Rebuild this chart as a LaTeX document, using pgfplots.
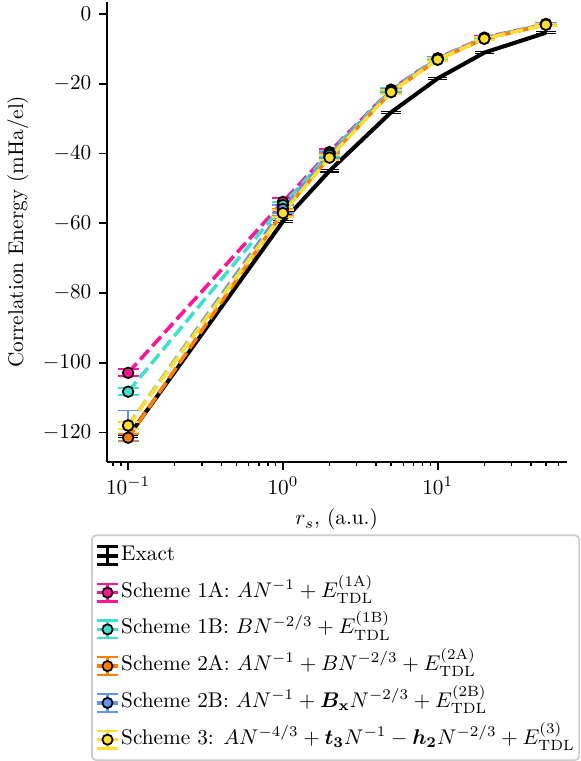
\documentclass[border=0pt]{standalone}
\usepackage{pgfplots}
\usepackage{bm}
\pgfplotsset{compat=1.18}
\definecolor{c1a}{HTML}{FF1493}
\definecolor{c1b}{HTML}{40E0D0}
\definecolor{c2a}{HTML}{FF7F00}
\definecolor{c2b}{HTML}{6495ED}
\definecolor{c3}{HTML}{FFDF2B}
\newcommand{\schemeimg}[1]{%
  \draw[#1, solid, line width=1.7pt] (0pt,0pt) -- (10pt,0pt);
  \draw[#1, solid, line width=1.1pt] (5pt,-4.2pt) -- (5pt,4.2pt);
  \draw[#1, solid, line width=1.1pt] (0pt,-4.2pt) -- (10pt,-4.2pt) (0pt,4.2pt) -- (10pt,4.2pt);
  \draw[solid, fill=#1, draw=black, line width=0.8pt] (5pt,0pt) circle (2.4pt);
}
\pgfplotsset{
  scheme/.style={#1, line width=1.7pt, dash pattern=on 6pt off 2.5pt, mark=*, mark size=2.5pt,
    mark options={solid, fill=#1, draw=black, line width=0.8pt},
    forget plot,
    error bars/.cd, y dir=both, y explicit,
    error bar style={solid, line width=0.9pt, #1},
    error mark options={solid, rotate=90, line width=0.9pt, mark size=5pt, #1}},
}
\pgfplotstableread{
x y e
0.1 -121.2 0.3
1 -59.5 0.3
2 -45.0 0.3
5 -28.2 0.3
10 -18.5 0.3
20 -11.1 0.3
50 -5.4 0.3
}\exact
\pgfplotstableread{
x y e
0.1 -102.9 1.0
1 -53.9 1.0
2 -39.6 0.8
5 -21.7 0.6
10 -12.7 0.5
20 -6.8 0.4
50 -2.9 0.3
}\sa
\pgfplotstableread{
x y e
0.1 -108.3 1.0
1 -54.8 1.0
2 -40.0 0.8
5 -21.9 0.6
10 -12.8 0.5
20 -6.9 0.4
50 -2.9 0.3
}\sb
\pgfplotstableread{
x y e
0.1 -121.5 1.0
1 -56.9 1.0
2 -41.0 0.8
5 -22.4 0.6
10 -13.1 0.5
20 -7.1 0.4
50 -3.1 0.3
}\sc
\pgfplotstableread{
x y e
0.1 -118.0 4.3
1 -55.9 1.2
2 -40.4 0.8
5 -22.1 0.6
10 -12.9 0.5
20 -7.0 0.4
50 -3.0 0.3
}\sd
\pgfplotstableread{
x y e
0.1 -118.0 1.0
1 -57.1 1.0
2 -41.2 0.8
5 -22.4 0.6
10 -13.1 0.5
20 -7.1 0.4
50 -3.1 0.3
}\se
\begin{document}
\begin{tikzpicture}
\begin{axis}[
  scale only axis,
  width=216.5pt, height=216.5pt,
  xmode=log,
  xmin=0.0727, xmax=68.2,
  ymin=-128.4, ymax=3.5,
  ytick={-120,-100,-80,-60,-40,-20,0},
  axis lines*=left,
  axis line style={line width=0.8pt},
  tick align=outside,
  major tick length=3.7pt,
  minor tick length=2.1pt,
  every tick/.style={black, line width=0.8pt},
  minor tick style={line width=0.6pt},
  xlabel={$r_s$, (a.u.)},
  ylabel={Correlation Energy (mHa/el)},
  legend cell align=left,
  legend style={at={(axis description cs:-0.034,-0.158)}, anchor=north west,
    draw=black!20, line width=0.8pt, rounded corners=2pt, fill=white,
    inner xsep=1.5pt, inner ysep=1pt,
    nodes={inner xsep=0.6pt, inner ysep=0pt, text height=10.8pt, text depth=6.5pt},
    row sep=0pt},
]
\addplot[black, line width=1.9pt, mark=none, forget plot,
  error bars/.cd, y dir=both, y explicit,
  error bar style={solid, line width=0.6pt, black},
  error mark options={solid, rotate=90, line width=0.6pt, mark size=4.6pt, black}]
  table[x=x, y=y, y error=e] {\exact};
\addplot[scheme=c1a] table[x=x, y=y, y error=e] {\sa};
\addplot[scheme=c1b] table[x=x, y=y, y error=e] {\sb};
\addplot[scheme=c2a] table[x=x, y=y, y error=e] {\sc};
\addplot[scheme=c2b] table[x=x, y=y, y error=e] {\sd};
\addplot[scheme=c3] table[x=x, y=y, y error=e] {\se};

\addlegendimage{legend image code/.code={%
  \draw[black, solid, line width=1.6pt] (0pt,0pt) -- (10pt,0pt);
  \draw[black, solid, line width=1.6pt] (5pt,-4.2pt) -- (5pt,4.2pt);
  \draw[black, solid, line width=1.4pt] (0pt,-4.2pt) -- (10pt,-4.2pt) (0pt,4.2pt) -- (10pt,4.2pt);}}
\addlegendentry{Exact}
\addlegendimage{legend image code/.code={\schemeimg{c1a}}}
\addlegendentry{Scheme 1A: $AN^{-1}+E_{\mathrm{TDL}}^{(\mathrm{1A})}$}
\addlegendimage{legend image code/.code={\schemeimg{c1b}}}
\addlegendentry{Scheme 1B: $BN^{-2/3}+E_{\mathrm{TDL}}^{(\mathrm{1B})}$}
\addlegendimage{legend image code/.code={\schemeimg{c2a}}}
\addlegendentry{Scheme 2A: $AN^{-1}+BN^{-2/3}+E_{\mathrm{TDL}}^{(\mathrm{2A})}$}
\addlegendimage{legend image code/.code={\schemeimg{c2b}}}
\addlegendentry{Scheme 2B: $AN^{-1}+\bm{B}_{\mathbf{x}}N^{-2/3}+E_{\mathrm{TDL}}^{(\mathrm{2B})}$}
\addlegendimage{legend image code/.code={\schemeimg{c3}}}
\addlegendentry{Scheme 3: $AN^{-4/3}+\bm{t_3}N^{-1}-\bm{h_2}N^{-2/3}+E_{\mathrm{TDL}}^{(3)}$}
\end{axis}
\end{tikzpicture}
\end{document}
